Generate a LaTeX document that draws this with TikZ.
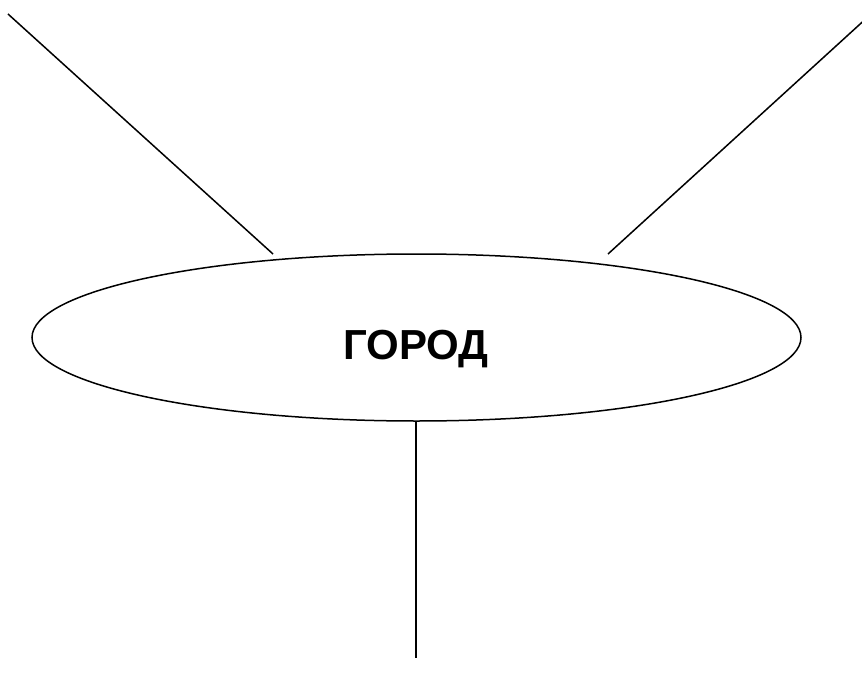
\documentclass[tikz,border=0pt]{standalone}
\usepackage{fontspec}
\setmainfont{Liberation Sans}
\begin{document}
\begin{tikzpicture}[x=1pt,y=-1pt,line width=1.5pt,
  lbl/.style={font=\fontsize{42}{48}\selectfont\bfseries,inner sep=0pt}]
\useasboundingbox (0,0) rectangle (862,685);
\draw (416.5,337.5) ellipse [x radius=384.5, y radius=83.5];
\node[lbl,anchor=base] (city) at (416,359) {ГОРОД};
\coordinate (a1) at (8,14);
\coordinate (a2) at (273,254);
\coordinate (b1) at (870,15);
\coordinate (b2) at (608,254);
\coordinate (c1) at (416,421);
\coordinate (c2) at (416,658);
\draw (a1) -- (a2);
\draw (b1) -- (b2);
\draw (c1) -- (c2);
\end{tikzpicture}
\end{document}
